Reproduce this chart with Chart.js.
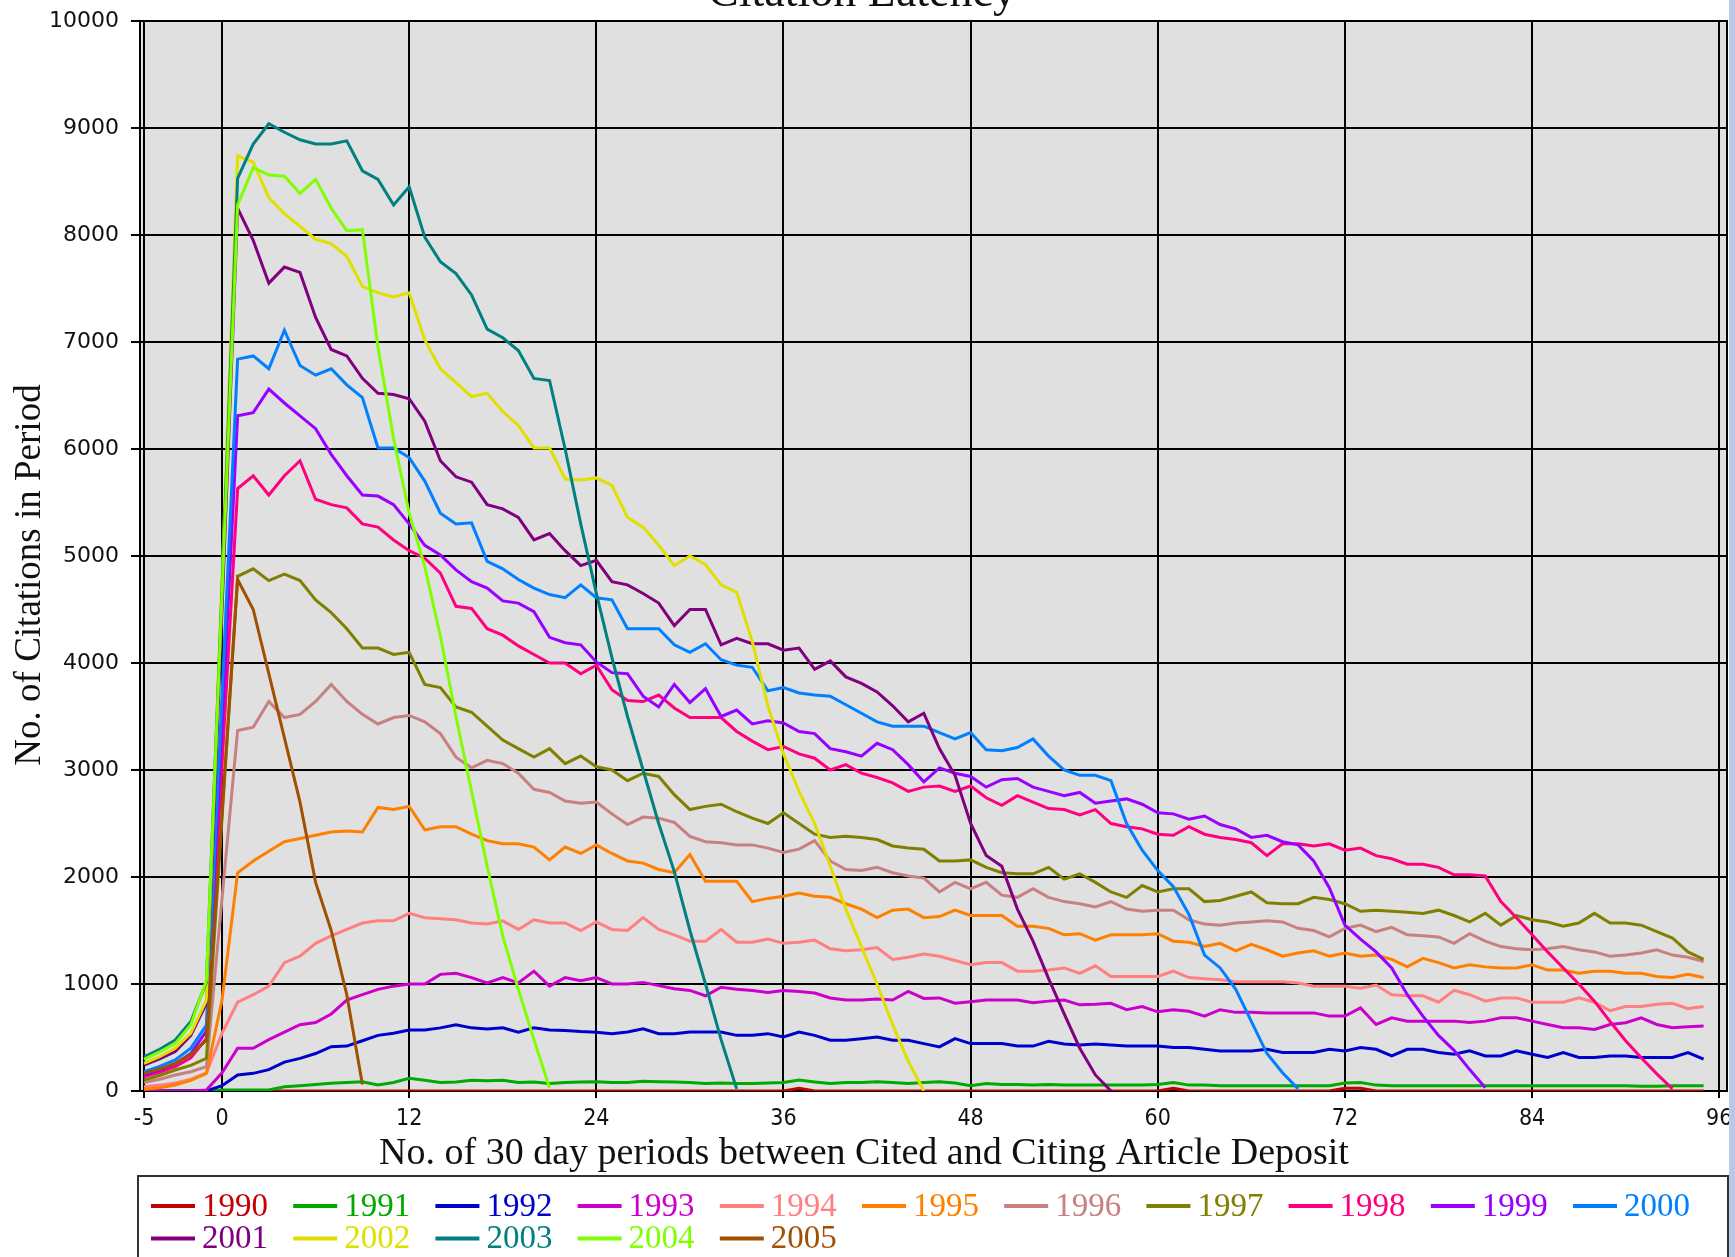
<!DOCTYPE html>
<html><head><meta charset="utf-8">
<script src="https://cdn.jsdelivr.net/npm/chart.js@4.4.0/dist/chart.umd.min.js"></script>
<style>
html,body{margin:0;padding:0;background:#fff;}
#wrap{position:relative;width:1735px;height:1257px;overflow:hidden;background:#fff;}
#c{position:absolute;left:0;top:0;}
#strip{position:absolute;left:1729px;top:0;width:6px;height:1257px;background:#bcc6ea;}
</style></head><body>
<div id="wrap"><canvas id="c" width="1735" height="1257"></canvas><div id="strip"></div></div>
<script>
const chartTitle = 'Citation Latency';
const xTitle = 'No. of 30 day periods between Cited and Citing Article Deposit';
const yTitle = 'No. of Citations in Period';
const xTicks = [-5, 0, 12, 24, 36, 48, 60, 72, 84, 96];
const yTicks = [0, 1000, 2000, 3000, 4000, 5000, 6000, 7000, 8000, 9000, 10000];
const periods = [-5,-4,-3,-2,-1,
 0,1,2,3,4,5,6,7,8,9, 10,11,12,13,14,15,16,17,18,19, 20,21,22,23,24,25,26,27,28,29,
 30,31,32,33,34,35,36,37,38,39, 40,41,42,43,44,45,46,47,48,49, 50,51,52,53,54,55,56,57,58,59,
 60,61,62,63,64,65,66,67,68,69, 70,71,72,73,74,75,76,77,78,79, 80,81,82,83,84,85,86,87,88,89,
 90,91,92,93,94,95];
const years = ['1990','1991','1992','1993','1994','1995','1996','1997','1998','1999','2000','2001','2002','2003','2004','2005'];
const colors = ['#c40000','#00aa00','#0000cc','#cc00cc','#ff8080','#ff8000','#c88080','#808000','#ff0080','#9900ff','#0080ff','#800080','#e0e000','#008080','#80ff00','#a05000'];

// values start at period -5
const y1990 = [0,0,0,0,0,
 0,0,0,0,0,0,0,0,0,0, 0,0,0,0,0,0,0,0,0,0, 0,0,0,0,0,0,0,0,0,0,
 0,0,0,0,0,0,0,25,0,0, 0,0,0,0,0,0,0,0,0,0, 0,0,0,0,0,0,0,0,0,0,
 0,25,0,0,0,0,0,0,0,0, 0,0,25,25,0,0,0,0,0,0, 0,0,0,0,0,0,0,0,0,0,
 0,0,0,0,0,0];
const y1991 = [0,0,0,0,0,
 10,10,10,10,40,50,60,72,80,87, 56,80,118,100,80,85,100,95,100,80, 85,70,80,85,87,80,80,90,87,85,
 80,70,75,70,70,75,80,102,85,70, 80,80,87,80,70,80,87,75,50,70, 60,60,55,60,55,55,55,55,55,55,
 60,80,55,55,50,50,50,50,50,50, 50,50,75,80,55,50,50,50,50,50, 50,50,50,50,50,50,50,50,50,50,
 50,45,45,50,50,50];
const y1992 = [0,0,0,0,0,
 50,150,165,200,270,305,350,414,420,470, 520,540,570,570,590,620,590,580,590,550, 590,570,565,555,550,536,551,582,536,536,
 551,551,551,520,520,536,505,551,520,474, 474,489,505,474,474,443,412,489,443,443, 443,420,420,465,440,430,440,430,420,421,
 421,406,406,390,375,375,375,390,359,359, 359,390,375,406,390,328,390,390,359,344, 375,328,328,375,344,313,359,313,313,328,
 328,313,313,313,359,297];
const y1993 = [0,0,0,0,10,
 170,400,400,480,550,620,640,720,850,900, 950,980,1000,1000,1090,1100,1060,1010,1060,1010, 1120,980,1060,1030,1060,1000,1000,1015,985,955,
 940,890,970,950,940,920,940,930,915,870, 850,850,860,850,930,865,870,820,835,850, 850,850,825,840,850,805,810,820,760,790,
 740,760,745,700,760,735,735,730,730,730, 730,700,700,777,622,684,653,653,653,653, 640,653,684,684,653,622,591,591,576,622,
 638,684,622,591,600,607];
const y1994 = [40,55,75,110,170,
 540,830,900,980,1200,1260,1380,1450,1510,1570, 1590,1590,1660,1620,1610,1600,1570,1560,1590,1510, 1600,1570,1570,1500,1580,1510,1500,1620,1510,1460,
 1400,1400,1510,1390,1390,1420,1380,1390,1410,1330, 1310,1320,1340,1230,1250,1280,1260,1220,1180,1200, 1200,1120,1120,1130,1150,1100,1170,1070,1070,1070,
 1070,1120,1060,1050,1040,1020,1020,1020,1020,1010, 980,980,980,960,990,900,890,890,830,940, 900,840,870,870,830,830,830,870,830,750,
 790,790,810,820,770,790];
const y1995 = [16,30,56,100,165,
 850,2040,2150,2240,2330,2360,2390,2420,2430,2420, 2650,2630,2660,2440,2470,2470,2400,2340,2310,2310, 2280,2160,2280,2220,2300,2220,2150,2130,2070,2040,
 2210,1960,1960,1960,1770,1800,1820,1850,1820,1810, 1750,1700,1620,1690,1700,1620,1630,1690,1640,1640, 1640,1540,1540,1520,1460,1470,1410,1460,1460,1460,
 1470,1400,1390,1350,1380,1310,1370,1320,1260,1290, 1310,1260,1290,1260,1270,1230,1160,1240,1200,1150, 1180,1160,1150,1150,1180,1130,1130,1100,1120,1120,
 1100,1100,1070,1060,1090,1060];
const y1996 = [78,110,150,180,227,
 1800,3370,3400,3640,3490,3520,3640,3800,3640,3520, 3430,3490,3510,3450,3340,3120,3020,3090,3060,2970, 2820,2790,2710,2690,2700,2590,2490,2560,2550,2510,
 2380,2330,2320,2300,2300,2270,2230,2260,2340,2150, 2070,2060,2090,2040,2010,1990,1860,1950,1890,1950, 1830,1810,1890,1810,1770,1750,1720,1770,1700,1680,
 1690,1690,1600,1560,1550,1570,1580,1590,1580,1520, 1500,1440,1520,1550,1490,1530,1460,1450,1440,1380, 1470,1400,1350,1330,1320,1330,1350,1320,1300,1260,
 1270,1290,1320,1270,1250,1210];
const y1997 = [103,145,196,240,305,
 2550,4810,4880,4770,4830,4770,4590,4470,4320,4140, 4140,4080,4100,3800,3770,3590,3540,3410,3280,3200, 3120,3200,3060,3130,3030,3000,2900,2970,2940,2770,
 2630,2660,2680,2610,2550,2500,2600,2500,2400,2370, 2380,2370,2350,2290,2270,2260,2150,2150,2160,2090, 2040,2030,2030,2090,1980,2030,1950,1860,1810,1920,
 1860,1890,1890,1770,1780,1820,1860,1760,1750,1750, 1810,1790,1750,1680,1690,1680,1670,1660,1690,1640, 1580,1660,1550,1640,1600,1580,1540,1570,1660,1570,
 1570,1550,1490,1430,1300,1230];
const y1998 = [134,175,227,310,492,
 3050,5630,5750,5570,5750,5890,5530,5480,5450,5300, 5270,5150,5050,4980,4840,4530,4510,4320,4260,4160, 4080,4000,4000,3900,3980,3750,3650,3640,3700,3580,
 3490,3490,3490,3360,3270,3190,3220,3150,3110,3000, 3050,2970,2930,2880,2800,2840,2850,2800,2850,2740, 2670,2760,2700,2640,2630,2580,2630,2500,2470,2450,
 2400,2390,2470,2400,2370,2350,2320,2200,2310,2310, 2290,2310,2250,2270,2200,2170,2120,2120,2090,2020, 2020,2010,1770,1620,1460,1300,1150,1000,840,650,
 470,310,160,20];
const y1999 = [150,195,255,350,560,
 3400,6310,6340,6560,6430,6310,6190,5950,5750,5570, 5560,5480,5300,5100,5010,4870,4760,4700,4580,4560, 4480,4240,4190,4170,4010,3910,3900,3690,3590,3800,
 3630,3760,3500,3560,3430,3460,3440,3360,3340,3200, 3170,3130,3250,3190,3050,2890,3020,2970,2940,2840, 2910,2920,2840,2800,2760,2790,2690,2710,2730,2680,
 2600,2590,2540,2570,2490,2450,2370,2390,2330,2300, 2150,1900,1550,1420,1300,1150,900,700,520,380, 200,30];
const y2000 = [180,230,290,400,617,
 3700,6840,6870,6750,7110,6780,6690,6750,6600,6480, 6010,6010,5920,5700,5400,5300,5310,4950,4880,4780, 4700,4640,4610,4730,4610,4590,4320,4320,4320,4170,
 4100,4180,4030,3980,3960,3740,3770,3720,3700,3690, 3610,3530,3450,3410,3410,3410,3350,3290,3350,3190, 3180,3210,3290,3130,3000,2950,2950,2900,2500,2250,
 2060,1910,1650,1270,1150,950,650,350,170,20];
const y2001 = [243,300,368,520,820,
 4500,8250,7950,7550,7700,7650,7230,6930,6870,6660, 6520,6510,6470,6260,5890,5740,5690,5480,5440,5360, 5150,5210,5050,4910,4960,4760,4730,4650,4560,4350,
 4500,4500,4170,4230,4180,4180,4120,4140,3940,4020, 3870,3810,3730,3600,3450,3530,3200,2950,2500,2200, 2100,1700,1400,1050,720,400,150,0];
const y2002 = [258,320,400,540,850,
 4800,8740,8680,8350,8200,8080,7960,7920,7800,7520, 7460,7420,7460,7020,6750,6620,6490,6520,6350,6220, 6010,6010,5720,5710,5730,5660,5360,5270,5100,4910,
 5000,4920,4730,4660,4200,3600,3150,2800,2500,2100, 1700,1350,1000,620,280,0];
const y2003 = [320,390,477,650,1020,
 4700,8530,8850,9040,8960,8890,8850,8850,8880,8600, 8520,8280,8450,7980,7750,7640,7440,7120,7040,6920, 6660,6640,6000,5300,4650,4050,3500,3000,2500,2050,
 1500,1000,480,20];
const y2004 = [296,365,445,620,1037,
 4650,8280,8630,8560,8550,8390,8520,8250,8040,8050, 6950,6100,5400,4900,4250,3500,2800,2100,1450,950, 480,30];
const y2005 = [165,205,258,340,477,
 2600,4780,4500,3900,3300,2700,1950,1500,900,60];

const series = [y1990,y1991,y1992,y1993,y1994,y1995,y1996,y1997,y1998,y1999,y2000,y2001,y2002,y2003,y2004,y2005];

const bgPlugin = {
  id: 'bg',
  beforeDraw(chart) {
    const {ctx: c, chartArea: a} = chart;
    c.save();
    c.fillStyle = '#ffffff';
    c.fillRect(0, 0, chart.width, chart.height);
    c.fillStyle = '#e0e0e0';
    c.fillRect(a.left, a.top, a.right - a.left, a.bottom - a.top);
    c.restore();
  },
  beforeDatasetsDraw(chart) {
    const {ctx: c, chartArea: a} = chart;
    c.save();
    c.strokeStyle = '#000';
    c.lineWidth = 2;
    c.strokeRect(a.left, a.top, a.right - a.left, a.bottom - a.top);
    c.restore();
  }
};

const textPlugin = {
  id: 'texts',
  afterDraw(chart) {
    const c = chart.ctx;
    c.save();
    c.fillStyle = '#111';
    c.textAlign = 'center';
    c.textBaseline = 'alphabetic';
    c.font = '46px "Liberation Serif"';
    c.fillText(chartTitle, 862, 6);
    c.font = '38px "Liberation Serif"';
    c.fillText(xTitle, 864, 1164);
    c.translate(30, 575);
    c.rotate(-Math.PI / 2);
    c.textBaseline = 'middle';
    c.font = '37px "Liberation Serif"';
    c.fillText(yTitle, 0, 0);
    c.restore();

    // legend
    c.save();
    c.strokeStyle = '#333';
    c.lineWidth = 2;
    c.strokeRect(138, 1176, 1590, 200);
    c.font = '33px "Liberation Serif"';
    c.textBaseline = 'middle';
    c.textAlign = 'left';
    chart.data.datasets.forEach((ds, k) => {
      const row = k < 11 ? 0 : 1;
      const col = k < 11 ? k : k - 11;
      const x0 = 151 + col * 142.2;
      const yc = 1206 + row * 32.5;
      c.fillStyle = ds.borderColor;
      c.fillRect(x0, yc - 2, 44, 4);
      c.fillText(ds.label, x0 + 51, yc + 1);
    });
    c.restore();
  }
};

new Chart(document.getElementById('c'), {
  type: 'line',
  data: {
    datasets: years.map((yr, k) => ({
      label: yr,
      data: series[k].map((v, i) => ({x: periods[i], y: v})),
      borderColor: colors[k],
      backgroundColor: colors[k],
      borderWidth: 3,
      pointRadius: 0,
      fill: false,
      tension: 0,
      order: years.length - k
    }))
  },
  options: {
    responsive: false,
    animation: false,
    devicePixelRatio: 1,
    layout: {padding: {top: 21, right: 8, bottom: 87, left: 0}},
    plugins: {legend: {display: false}, tooltip: {enabled: false}, title: {display: false}},
    scales: {
      x: {
        type: 'linear', min: -5.26, max: 96.5,
        afterBuildTicks: s => { s.ticks = xTicks.map(v => ({value: v})); },
        afterFit: s => { s.height = 79; s.paddingLeft = 0; s.paddingRight = 0; },
        ticks: {font: {family: '"Liberation Sans Narrow", "DejaVu Sans Condensed", "DejaVu Sans"', size: 23}, color: '#111', padding: 7, maxRotation: 0, autoSkip: false, callback: v => String(v)},
        grid: {color: '#000', lineWidth: 2, tickLength: 7},
        border: {display: true, color: '#000', width: 2}
      },
      y: {
        min: 0, max: 10000,
        afterBuildTicks: s => { s.ticks = yTicks.map(v => ({value: v})); },
        afterFit: s => { s.width = 140; s.paddingTop = 0; s.paddingBottom = 0; },
        ticks: {font: {family: 'DejaVu Sans', size: 22}, color: '#111', padding: 12, callback: v => String(v)},
        grid: {color: '#000', lineWidth: 2, tickLength: 9},
        border: {display: true, color: '#000', width: 2}
      }
    }
  },
  plugins: [bgPlugin, textPlugin]
});
</script>
</body></html>
